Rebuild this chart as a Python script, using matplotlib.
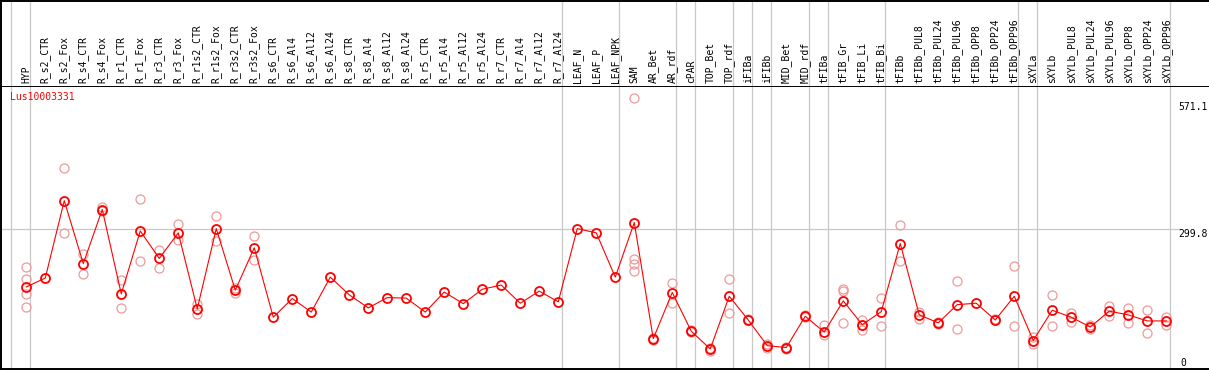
import numpy as np
import matplotlib
matplotlib.use("Agg")
import matplotlib.pyplot as plt

# Sample names (column headers)
samples = ["HYP", "R_s2_CTR", "R_s2_Fox", "R_s4_CTR", "R_s4_Fox", "R_r1_CTR", "R_r1_Fox",
           "R_r3_CTR", "R_r3_Fox", "R_r1s2_CTR", "R_r1s2_Fox", "R_r3s2_CTR", "R_r3s2_Fox",
           "R_s6_CTR", "R_s6_Al4", "R_s6_Al12", "R_s6_Al24", "R_s8_CTR", "R_s8_Al4",
           "R_s8_Al12", "R_s8_Al24", "R_r5_CTR", "R_r5_Al4", "R_r5_Al12", "R_r5_Al24",
           "R_r7_CTR", "R_r7_Al4", "R_r7_Al12", "R_r7_Al24", "LEAF_N", "LEAF_P", "LEAF_NPK",
           "SAM", "AR_Bet", "AR_rdf", "cPAR", "TOP_Bet", "TOP_rdf", "iFIBa", "iFIBb",
           "MID_Bet", "MID_rdf", "tFIBa", "tFIB_Gr", "tFIB_Li", "tFIB_Bi", "tFIBb",
           "tFIBb_PUL8", "tFIBb_PUL24", "tFIBb_PUL96", "tFIBb_OPP8", "tFIBb_OPP24",
           "tFIBb_OPP96", "sXYLa", "sXYLb", "sXYLb_PUL8", "sXYLb_PUL24", "sXYLb_PUL96",
           "sXYLb_OPP8", "sXYLb_OPP24", "sXYLb_OPP96"]

# mean expression per sample
means = [175, 194, 360, 225, 341, 160, 295, 236, 291, 128,
         300, 168, 259, 110, 150, 121, 196, 158, 130, 152,
         151, 121, 164, 139, 170, 179, 140, 166, 143, 300,
         291, 196, 313, 64, 163, 80, 42, 155, 104, 49,
         45, 112, 78, 145, 94, 122, 268, 115, 98, 137,
         140, 104, 155, 60, 125, 110, 89, 123, 115, 102, 102]

# individual replicates
replicates = [[218, 192, 160, 132], [], [429, 291], [245, 203], [347, 338],
              [189, 130], [363, 231], [255, 216], [309, 275], [139, 117],
              [328, 273], [172, 161], [285, 232], [], [], [], [], [], [], [],
              [], [], [], [], [], [], [], [], [], [], [], [],
              [580, 235, 224, 209], [66, 61], [184, 140], [83, 78], [45, 38],
              [191, 120], [106, 103], [52, 45], [47, 42], [115, 110], [94, 71],
              [170, 167, 97], [105, 93, 82], [151, 91], [307, 231], [122, 106],
              [100, 96], [188, 85], [], [106, 103], [220, 92], [67, 53],
              [158, 92], [120, 99], [93, 84], [133, 112], [130, 97], [126, 76],
              [110, 94]]

# group separators sit right after these sample indices
group_ends = [-1, 0, 28, 31, 34, 35, 37, 38, 39, 41, 42, 45, 52, 53, 60]

gene = "Lus10003331"
y_max_label = 571.1
y_mid_label = 299.8

W, H = 1209, 370
fig = plt.figure(figsize=(W / 100, H / 100), dpi=100)

x0, x1 = -1.33, 62.25
ax = fig.add_axes([1 / W, 1.5 / H, (W - 1) / W, 283 / H])
axh = fig.add_axes([1 / W, 284.5 / H, (W - 1) / W, 84.5 / H], sharex=ax)

grey = "#c8c8c8"
red = "#ff0000"
pink = "#ee9a9a"

for a in (ax, axh):
    a.set_xlim(x0, x1)
    a.set_xticks([])
    a.set_yticks([])
    a.spines["right"].set_visible(False)
    for s in ("left", "top", "bottom"):
        a.spines[s].set_linewidth(1.4)
    for g in group_ends:
        a.axvline(g + 0.21, color=grey, lw=0.9, zorder=0)

ax.set_ylim(0, 607)
axh.set_ylim(0, 1)
axh.spines["bottom"].set_visible(False)

# header labels
for i, name in enumerate(samples):
    axh.text(i, 0.025, name, rotation=90, ha="center", va="bottom",
             family="DejaVu Sans Mono", fontsize=7)

# grid line
ax.hlines(y_mid_label, x0, 60.8, color=grey, lw=0.9, zorder=0)

x = np.arange(len(samples))
for i, reps in enumerate(replicates):
    if reps:
        ax.plot([i] * len(reps), reps, "o", ms=6.5, mfc="none", mec=pink, mew=0.9, zorder=2)

ax.plot(x, means, "-", color=red, lw=0.8, zorder=3)
ax.plot(x, means, "o", ms=6.5, mfc="none", mec=red, mew=1.3, zorder=4)

fig.text(10 / W, 1 - 97 / H, gene, color=red, family="DejaVu Sans Mono",
         fontsize=7, ha="left", va="center")

tr = ax.get_yaxis_transform()
xl = (1178 - 1) / (W - 1)
ax.text(xl, y_max_label, "%.1f" % y_max_label, transform=tr, ha="left", va="top",
        family="DejaVu Sans Mono", fontsize=7)
ax.text(xl, y_mid_label, "%.1f" % y_mid_label, transform=tr, ha="left", va="top",
        family="DejaVu Sans Mono", fontsize=7)
ax.text(xl + 0.002, 2, "0", transform=tr, ha="left", va="bottom",
        family="DejaVu Sans Mono", fontsize=7)

fig.savefig("out.png", dpi=100)
